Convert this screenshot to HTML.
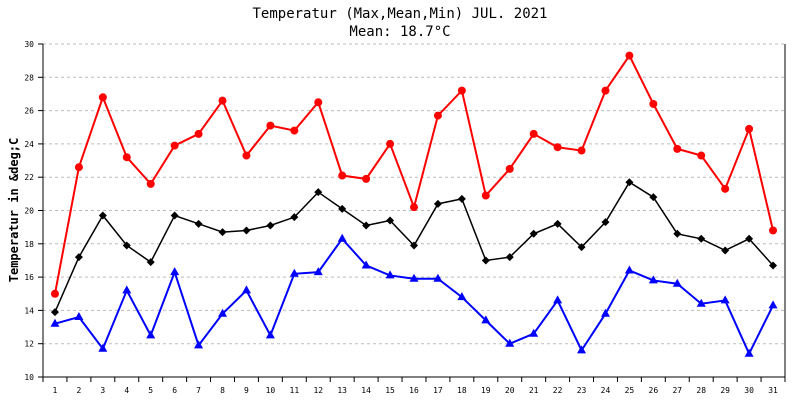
<!DOCTYPE html>
<html><head><meta charset="utf-8"><style>
body{margin:0;background:#fff}
svg{display:block;font-family:"DejaVu Sans Mono","Liberation Mono",monospace}
</style></head><body>
<svg id="chart" width="800" height="400">
<text x="400" y="18" text-anchor="middle" font-size="14">Temperatur (Max,Mean,Min) JUL. 2021</text>
<text x="400" y="36" text-anchor="middle" font-size="14">Mean: 18.7°C</text>
<text transform="translate(18,210) rotate(-90)" text-anchor="middle" font-size="12" font-weight="bold">Temperatur in &amp;deg;C</text>
<g id="grid"></g><g id="axes"></g><g id="series"></g>
</svg>
<script>
const days=[1,2,3,4,5,6,7,8,9,10,11,12,13,14,15,16,17,18,19,20,21,22,23,24,25,26,27,28,29,30,31];
const maxT=[15.0,22.6,26.8,23.2,21.6,23.9,24.6,26.6,23.3,25.1,24.8,26.5,22.1,21.9,24.0,20.2,25.7,27.2,20.9,22.5,24.6,23.8,23.6,27.2,29.3,26.4,23.7,23.3,21.3,24.9,18.8];
const meanT=[13.9,17.2,19.7,17.9,16.9,19.7,19.2,18.7,18.8,19.1,19.6,21.1,20.1,19.1,19.4,17.9,20.4,20.7,17.0,17.2,18.6,19.2,17.8,19.3,21.7,20.8,18.6,18.3,17.6,18.3,16.7];
const minT=[13.2,13.6,11.7,15.2,12.5,16.3,11.9,13.8,15.2,12.5,16.2,16.3,18.3,16.7,16.1,15.9,15.9,14.8,13.4,12.0,12.6,14.6,11.6,13.8,16.4,15.8,15.6,14.4,14.6,11.4,14.3];
const yTicks=[10,12,14,16,18,20,22,24,26,28,30];
const NS="http://www.w3.org/2000/svg";
const L=43,R=785,T=44,B=377,yMin=10,yMax=30;
const bw=(R-L)/days.length;
const xs=i=>L+bw*(i+0.5);
const ys=v=>B-(v-yMin)/(yMax-yMin)*(B-T);
function mk(tag,attrs,parent){const e=document.createElementNS(NS,tag);for(const k in attrs)e.setAttribute(k,attrs[k]);parent.appendChild(e);return e;}
const grid=document.getElementById('grid'),axes=document.getElementById('axes'),ser=document.getElementById('series');
yTicks.forEach(t=>{
 if(t>yMin){const g=mk('line',{x1:L,x2:R,y1:ys(t),y2:ys(t),stroke:'#bbb','stroke-dasharray':'3,3'},grid);
 
 }
 mk('line',{x1:L-5,x2:L,y1:ys(t),y2:ys(t),stroke:'#000'},axes);
 const tx=mk('text',{x:L-9,y:ys(t)+3,'text-anchor':'end','font-size':'8'},axes);tx.textContent=t;
 
 
});
mk('line',{x1:L,x2:L,y1:T,y2:B+5,stroke:'#000'},axes);
mk('line',{x1:R,x2:R,y1:T,y2:B+5,stroke:'#000'},axes);
mk('line',{x1:L,x2:R,y1:B,y2:B,stroke:'#000'},axes);
for(let i=0;i<=days.length;i++)mk('line',{x1:L+bw*i,x2:L+bw*i,y1:B,y2:B+5,stroke:'#000'},axes);
days.forEach((d,i)=>{const tx=mk('text',{x:xs(i),y:B+16,'text-anchor':'middle','font-size':'8'},axes);tx.textContent=d;
 
 });
function series(vals,color,shape,name){
 const pl=mk('polyline',{points:vals.map((v,i)=>xs(i)+','+ys(v)).join(' '),fill:'none',stroke:color,'stroke-width':color=='#000'?1.5:2},ser);
 
 
 vals.forEach((v,i)=>{const x=xs(i),y=ys(v);let m;
  if(shape=='circle')m=mk('circle',{cx:x,cy:y,r:4,fill:color},ser);
  else if(shape=='diamond')m=mk('polygon',{points:`${x},${y-4} ${x+4},${y} ${x},${y+4} ${x-4},${y}`,fill:color},ser);
  else m=mk('polygon',{points:`${x},${y-5} ${x+4.5},${y+3} ${x-4.5},${y+3}`,fill:color},ser);
  
  });
}
series(maxT,'#f00','circle','max');
series(meanT,'#000','diamond','mean');
series(minT,'#00f','triangle','min');
</script>
</body></html>
